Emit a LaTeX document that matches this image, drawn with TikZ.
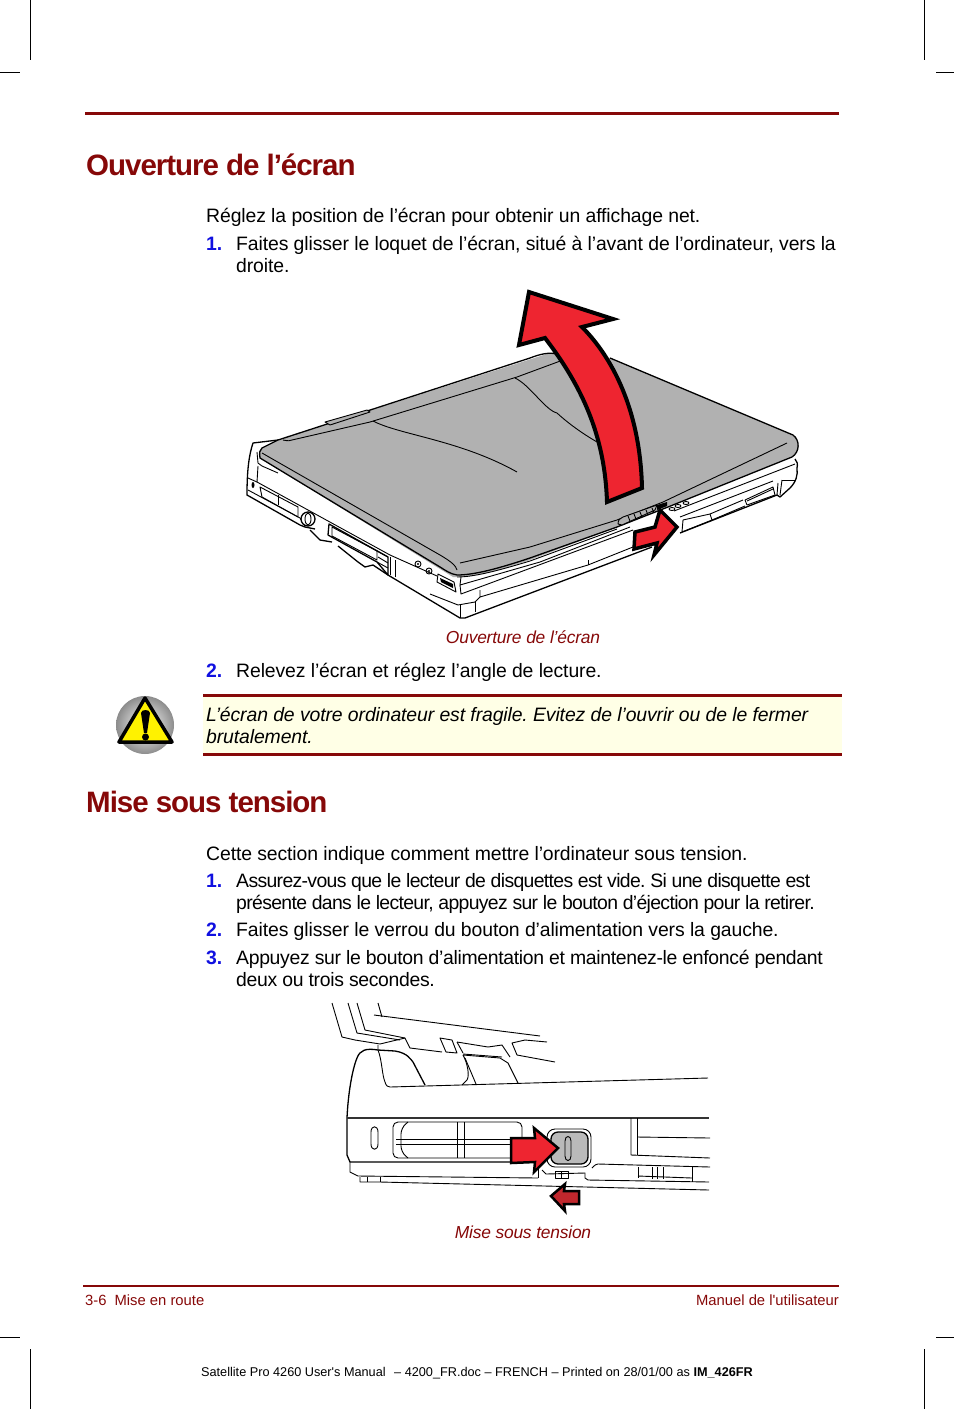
\documentclass[tikz,border=0pt]{standalone}
\usepackage{fontspec}
\setmainfont[Ligatures=TeXOff]{Liberation Sans}
\frenchspacing
\definecolor{manualred}{HTML}{860808}
\definecolor{arrowred}{HTML}{EE2530}
\definecolor{darkarrow}{HTML}{C0272D}
\definecolor{lidgray}{HTML}{B1B1B1}
\definecolor{notebg}{HTML}{FFFFE6}
\definecolor{numblue}{HTML}{1010E0}
\tikzset{
    bodytext/.style={anchor=base west, inner sep=0pt, font=\fontsize{19.4}{22}\selectfont\addfontfeature{LetterSpace=-.6}},
    tighttext/.style={anchor=base west, inner sep=0pt, font=\fontsize{19.4}{22}\selectfont\addfontfeature{LetterSpace=-1.7}},
    squeezedtext/.style={anchor=base west, inner sep=0pt, font=\fontsize{19.4}{22}\selectfont\addfontfeature{LetterSpace=-3.4}},
    notetext/.style={anchor=base west, inner sep=0pt, font=\fontsize{19.4}{22}\selectfont\itshape\addfontfeature{LetterSpace=-.6}},
    numtext/.style={anchor=base west, inner sep=0pt, text=numblue, font=\fontsize{19.4}{22}\selectfont\bfseries},
    heading/.style={anchor=base west, inner sep=0pt, text=manualred, font=\fontsize{29.5}{32}\selectfont\bfseries\addfontfeature{LetterSpace=-3.5}},
    caption/.style={anchor=base, inner sep=0pt, text=manualred, font=\fontsize{17.4}{20}\selectfont\itshape\addfontfeature{LetterSpace=-1.2}},
    footer/.style={inner sep=0pt, text=manualred, font=\fontsize{14.8}{17}\selectfont},
    printer/.style={anchor=base, inner sep=0pt, font=\fontsize{12.7}{15}\selectfont},
    ink/.style={line width=1.3pt, line join=round},
    thin ink/.style={line width=.9pt, line join=round},
    red arrow/.style={fill=arrowred, draw=black, line width=4pt, miter limit=6},
}
\begin{document}
\begin{tikzpicture}[x=1pt,y=-1pt]
    \useasboundingbox (0,0) rectangle (954,1409);
    % draw the crop marks
    \draw[line width=.8pt] (30,0) -- (30,60);
    \draw[line width=.8pt] (924,0) -- (924,60);
    \draw[line width=.8pt] (0,72) -- (20,72);
    \draw[line width=.8pt] (936,72) -- (954,72);
    \draw[line width=.8pt] (0,1337) -- (20,1337);
    \draw[line width=.8pt] (936,1337) -- (954,1337);
    \draw[line width=.8pt] (30,1349) -- (30,1409);
    \draw[line width=.8pt] (924,1349) -- (924,1409);
    % draw the page rules
    \draw[manualred, line width=3pt] (85,113) -- (839,113);
    \draw[manualred, line width=1.5pt] (83,1286) -- (839,1286);
    % first section
    \node[heading] (openhead) at (86,175) {Ouverture de l’écran};
    \node[bodytext] (openintro) at (206,222) {Réglez la position de l’écran pour obtenir un affichage net.};
    \node[numtext] (openone) at (206,250) {1.};
    \node[bodytext] (openonea) at (236,250) {Faites glisser le loquet de l’écran, situé à l’avant de l’ordinateur, vers la};
    \node[bodytext] (openoneb) at (236,272) {droite.};
    % the laptop base
    \fill[white] (253,443) -- (278,437) -- (795,455) -- (797,470) -- (792,488) -- (780,497) -- (465,618) -- (247,495) -- (247,480) -- cycle;
    \draw[ink] (278,440) -- (253,443) .. controls (249,455) and (247,470) .. (247,495) -- (300,525) -- (305,527) -- (315,529);
    \draw[ink] (310,530) -- (320,540) -- (332,542);
    \draw[ink] (338,546) -- (358,562) -- (365,567) -- (373,565) -- (388,575) -- (460,618) -- (465,618) -- (652,547);
    \draw[ink] (680,533) -- (777,495) -- (780,497) -- (790,488) .. controls (796,482) and (798,475) .. (797,468) .. controls (798,464) and (797,461) .. (795,459);
    \draw[thin ink] (257,452) -- (258,463) -- (262,466) -- (278,473);
    \draw[thin ink] (258,466) -- (257,482) -- (390,555) -- (437,576);
    \draw[thin ink] (248,478) -- (257,482);
    \fill (253,485) ellipse (1.5pt and 3pt);
    \draw[thin ink] (248,490) -- (300,518) -- (305,526);
    \draw[thin ink] (461,577) -- (460,585) -- (540,562) -- (630,527);
    \draw[thin ink] (674,511) -- (795,464);
    \draw[thin ink] (460,585) -- (461,594) -- (633,530);
    \draw[thin ink] (480,590) -- (480,597) -- (588,565) -- (633,547);
    \draw[thin ink] (588,560) -- (588,565);
    \draw[thin ink] (430,594) -- (458,605) -- (475,602) -- (480,597);
    \draw[thin ink] (475,602) -- (475,612);
    \draw[thin ink] (460,605) -- (460,618);
    \draw[thin ink] (680,517) -- (773,481);
    % the ports on the left side
    \draw[thin ink] (260,487) -- (298,507) -- (298,517) -- (262,497) -- cycle;
    \draw[thin ink] (278,495) -- (278,505);
    \draw[ink, fill=white] (308,519) circle (7pt);
    \draw[thin ink] (308,519) ellipse (3pt and 6pt);
    \draw[ink] (329,524) -- (388,557) -- (388,575) -- (377,562) -- (328,535) -- cycle;
    \draw[thin ink] (332,527) -- (377,551) -- (377,560) -- (332,536) -- cycle;
    \draw[thin ink] (377,551) -- (388,557);
    \draw[thin ink] (378,557) -- (388,563);
    \draw[thin ink] (377,562) -- (388,568);
    \draw[thin ink] (390,557) -- (390,575);
    \draw[thin ink] (395,560) -- (395,577);
    \draw[thin ink] (418,564) circle (3pt);
    \fill (418,564) circle (1.2pt);
    \draw[thin ink] (429,571) circle (3pt);
    \fill (429,571) circle (1.2pt);
    \draw[thin ink] (438,574) -- (454,582) -- (456,592) -- (437,582) -- cycle;
    \fill (440,578) -- (453,584) -- (453,588) -- (441,582) -- cycle;
    % the ports on the front
    \draw[thin ink] (683,520) -- (710,514) -- (712,520) -- (682,532) -- cycle;
    \draw[thin ink] (745,500) -- (773,487) -- (775,495) -- (747,505) -- cycle;
    \draw[thin ink] (747,501) -- (773,489);
    \draw[thin ink] (712,520) -- (745,506);
    \draw[thin ink] (710,514) -- (743,500);
    \draw[thin ink] (778,483) -- (777,495);
    \draw[thin ink] (782,480) -- (780,495);
    \draw[thin ink] (782,480) -- (795,480);
    \draw[thin ink] (672,509) ellipse (3pt and 1.5pt);
    \draw[thin ink] (678,506) ellipse (3pt and 1.5pt);
    \draw[thin ink] (686,503) ellipse (3pt and 1.5pt);
    % the lid
    \fill[lidgray] (260,458) .. controls (259,452) and (260,450) .. (262,448) -- (278,440) -- (550,353) -- (610,358) -- (793,435) .. controls (800,440) and (800,452) .. (792,457) -- (668,507) -- (617,527) -- (530,560) .. controls (500,570) and (475,577) .. (457,577) -- (453,577) -- cycle;
    \draw[ink] (278,440) -- (530,358) .. controls (540,354) and (550,352) .. (556,354) (610,358) -- (793,435) .. controls (800,440) and (800,452) .. (792,457) -- (668,507) -- (617,527) -- (530,558) .. controls (500,568) and (475,575) .. (457,575) .. controls (450,574) and (445,570) .. (440,567) -- (260,458) .. controls (259,452) and (260,450) .. (262,448) -- (278,440);
    \draw[thin ink] (457,577) .. controls (475,577) and (500,570) .. (530,561) -- (617,529);
    \draw[thin ink] (262,453) -- (440,555) .. controls (452,562) and (456,566) .. (457,570);
    \draw[thin ink] (460,563) -- (530,547) -- (617,520) -- (663,502) -- (787,443);
    \draw[thin ink] (283,440) .. controls (288,441) and (290,441) .. (292,440) -- (370,422) -- (517,377) -- (563,360);
    \draw[thin ink, fill=lidgray] (325,422) -- (367,410) -- (370,412) -- (330,425) -- cycle;
    \draw[thin ink] (373,421) .. controls (400,435) and (460,440) .. (517,472);
    \draw[thin ink] (515,378) .. controls (530,385) and (545,410) .. (557,413) .. controls (570,425) and (585,435) .. (597,442);
    % the latch
    \draw[thin ink, fill=lidgray] (618,524) .. controls (618,520) and (620,518) .. (623,517) -- (657,505) -- (655,510) -- (622,525) -- cycle;
    \fill (657,505) -- (667,502) -- (667,506) -- (657,510) -- cycle;
    \foreach \k in {0,1,2,3,4}
        \draw[thin ink] (628+6*\k,516-2*\k) -- (630+6*\k,521-2*\k);
    % the arrows of the first picture
    \draw[red arrow] (529,292) -- (613,319) -- (582,327) .. controls (605,350) and (640,400) .. (642,488) -- (607,502) .. controls (605,440) and (585,390) .. (545,338) -- (519,345) -- cycle;
    \draw[red arrow, line width=3.5pt] (635,532) -- (655,527) -- (660,510) -- (677,527) -- (654,555) -- (657,543) -- (634,549) -- cycle;
    \node[caption] (opencaption) at (523,643) {Ouverture de l’écran};
    \node[numtext] (opentwo) at (206,677) {2.};
    \node[bodytext] (opentwoa) at (236,677) {Relevez l’écran et réglez l’angle de lecture.};
    % the note
    \fill[notebg] (203,695) rectangle (842,754);
    \draw[manualred, line width=3pt] (203,695) -- (842,695);
    \draw[manualred, line width=2.6pt] (203,754.5) -- (842,754.5);
    \node[notetext] (notea) at (206,721) {L’écran de votre ordinateur est fragile. Evitez de l’ouvrir ou de le fermer};
    \node[notetext] (noteb) at (206,743) {brutalement.};
    % the warning sign
    \shade[inner color=white, outer color=black!45] (145,725) circle (29pt);
    \draw[fill=yellow, line width=3.5pt, line join=round] (145,698) -- (119,742) -- (172,742) -- cycle;
    \fill (141,713) .. controls (141,709) and (150,709) .. (150,713) -- (147,733) -- (144,733) -- cycle;
    \fill (145.5,737) circle (3.5pt);
    % second section
    \node[heading] (powerhead) at (86,812) {Mise sous tension};
    \node[bodytext] (powerintro) at (206,860) {Cette section indique comment mettre l’ordinateur sous tension.};
    \node[numtext] (powerone) at (206,887) {1.};
    \node[squeezedtext] (poweronea) at (236,887) {Assurez-vous que le lecteur de disquettes est vide. Si une disquette est};
    \node[squeezedtext] (poweroneb) at (236,909) {présente dans le lecteur, appuyez sur le bouton d’éjection pour la retirer.};
    \node[numtext] (powertwo) at (206,936) {2.};
    \node[bodytext] (powertwoa) at (236,936) {Faites glisser le verrou du bouton d’alimentation vers la gauche.};
    \node[numtext] (powerthree) at (206,964) {3.};
    \node[tighttext] (powerthreea) at (236,964) {Appuyez sur le bouton d’alimentation et maintenez-le enfoncé pendant};
    \node[tighttext] (powerthreeb) at (236,986) {deux ou trois secondes.};
    % the screen of the second picture
    \draw[thin ink] (332,1003) -- (342,1037) -- (355,1040) -- (380,1044) -- (405,1038);
    \draw[thin ink] (348,1003) -- (357,1033) -- (400,1040);
    \draw[thin ink] (357,1003) -- (365,1030) -- (405,1038) -- (410,1048) -- (442,1052);
    \draw[thin ink] (378,1003) -- (382,1017);
    \draw[thin ink] (374,1015) -- (540,1036);
    \draw[thin ink] (440,1038) -- (452,1040) -- (457,1053) -- (446,1052) -- cycle;
    \draw[thin ink] (457,1042) -- (488,1047) -- (502,1045) -- (510,1057);
    \draw[thin ink] (463,1053) -- (457,1042);
    \draw[thin ink] (463,1054) -- (502,1057);
    \draw[thin ink] (547,1042) -- (525,1040) -- (512,1043) -- (517,1055) -- (555,1062);
    % the body of the second picture
    \draw[ink] (347,1155) -- (347,1118) .. controls (348,1095) and (352,1070) .. (357,1058) .. controls (360,1050) and (366,1048) .. (378,1050) -- (395,1051) .. controls (408,1053) and (411,1060) .. (413,1062) -- (425,1085);
    \draw[thin ink] (378,1045) -- (378,1050) .. controls (382,1060) and (382,1075) .. (385,1082) .. controls (386,1086) and (388,1087) .. (390,1087) -- (708,1078);
    \draw[thin ink] (463,1055) .. controls (467,1062) and (470,1075) .. (467,1080) -- (462,1085);
    \draw[thin ink] (465,1058) -- (476,1084);
    \draw[thin ink] (463,1055) -- (500,1058) -- (508,1063) -- (518,1083);
    \draw[line width=1.4pt, black!80] (347,1118) -- (709,1118);
    \draw[thin ink] (371,1132) .. controls (371,1125) and (378,1125) .. (378,1132) -- (378,1144) .. controls (378,1151) and (371,1151) .. (371,1144) -- cycle;
    % the vent
    \draw[thin ink, rounded corners=5pt] (522,1158) -- (522,1122) -- (393,1122) -- (393,1158) -- cycle;
    \draw[thin ink, rounded corners=6pt] (408,1158) -- (401,1152) -- (401,1128) -- (408,1122);
    \draw[thin ink] (457,1122) -- (457,1158);
    \draw[thin ink] (464,1122) -- (464,1158);
    \draw[thin ink] (396,1139) -- (510,1139);
    \draw[thin ink] (396,1144) -- (510,1144);
    % the lower edge
    \draw[ink] (347,1155) -- (350,1162) -- (538,1162);
    \draw[thin ink] (350,1162) -- (350,1172) -- (358,1176) -- (538,1178);
    \draw[thin ink] (360,1177) -- (360,1182) -- (380,1182) -- (709,1190);
    \draw[thin ink] (380,1177) -- (380,1182);
    \draw[thin ink] (367,1177) -- (367,1182);
    \draw[thin ink] (538,1162) -- (538,1178);
    \draw[thin ink] (542,1170) -- (546,1174) -- (585,1173) -- (585,1178) -- (588,1180) -- (709,1182);
    \draw[thin ink] (592,1168) .. controls (595,1165) and (596,1164) .. (598,1164) -- (710,1167);
    \draw[thin ink] (555,1171) rectangle (568,1178);
    \draw[thin ink] (561,1171) -- (561,1178);
    % the right part of the body
    \draw[thin ink] (631,1118) -- (631,1155) -- (710,1158);
    \draw[thin ink] (637,1118) -- (637,1155);
    \draw[thin ink] (637,1137) -- (710,1138);
    \draw[thin ink] (638,1167) -- (638,1178);
    \draw[thin ink] (652,1167) -- (652,1179);
    \draw[thin ink] (657,1167) -- (657,1179);
    \draw[thin ink] (663,1167) -- (663,1179);
    \draw[thin ink] (638,1176) -- (692,1178);
    \draw[thin ink] (692,1167) -- (692,1182);
    % the power button
    \draw[thin ink, fill=white, rounded corners=8pt] (547,1129) rectangle (591,1167);
    \draw[ink, fill=black!27, rounded corners=7pt] (551,1132) rectangle (588,1164);
    \draw[thin ink] (565,1141) .. controls (565,1135) and (571,1135) .. (571,1141) -- (571,1156) .. controls (571,1162) and (565,1162) .. (565,1156) -- cycle;
    % the arrows of the second picture
    \draw[red arrow, line width=2.5pt] (511,1138) -- (535,1138) -- (534,1128) -- (558,1148) -- (534,1172) -- (535,1162) -- (511,1163) -- cycle;
    \draw[red arrow, fill=darkarrow, line width=2.5pt] (551,1196) -- (565,1184) -- (564,1191) -- (579,1191) -- (579,1204) -- (564,1204) -- (565,1211) -- cycle;
    \node[caption] (powercaption) at (523,1238) {Mise sous tension};
    % footer text
    \node[footer, anchor=base west] (footleft) at (85,1305) {3-6\hspace{8pt}Mise en route};
    \node[footer, anchor=base east] (footright) at (839,1305) {Manuel de l'utilisateur};
    \node[printer] (printline) at (477,1376) {Satellite Pro 4260 User's Manual\hspace{5pt} – 4200\_FR.doc – FRENCH – Printed on 28/01/00 as \textbf{IM\_426FR}};
\end{tikzpicture}
\end{document}
